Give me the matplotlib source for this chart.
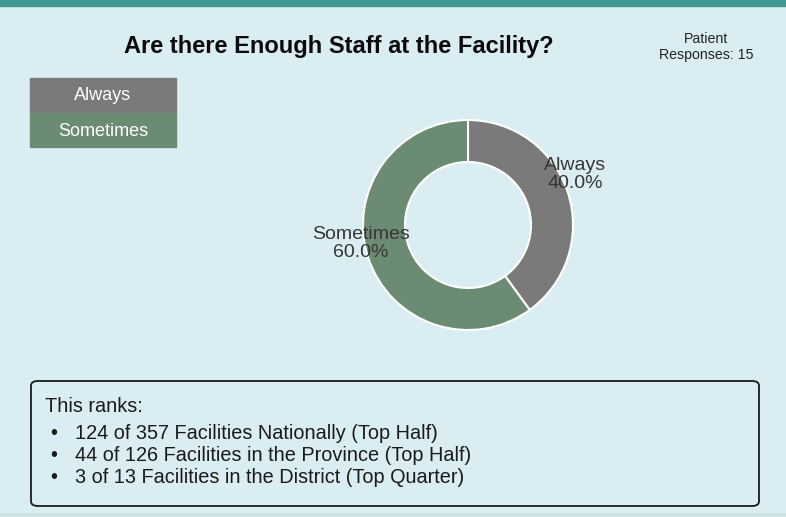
import numpy as np
import matplotlib
matplotlib.use("Agg")
from matplotlib import pyplot as plt
from matplotlib.patches import Rectangle, FancyBboxPatch

categories = ["Always", "Sometimes"]
shares = [40.0, 60.0]
colors = ["#7a7a7a", "#6b8c72"]
title = "Are there Enough Staff at the Facility?"
responses = 15
rank_lines = [
    "124 of 357 Facilities Nationally (Top Half)",
    "44 of 126 Facilities in the Province (Top Half)",
    "3 of 13 Facilities in the District (Top Quarter)",
]

W, H = 786, 517
BG = "#daedf2"
plt.rcParams['font.family'] = ['Liberation Sans', 'DejaVu Sans']

fig = plt.figure(figsize=(W / 100, H / 100), dpi=100, facecolor=BG)


def fx(px):
    return px / W


def fy(py):
    # pixel from top -> figure fraction
    return 1 - py / H


# top bar and bottom strip
fig.patches.append(Rectangle((0, fy(6)), 1, 6 / H, transform=fig.transFigure,
                             color="#3d9991", zorder=0))
fig.patches.append(Rectangle((0, 0), 1, 4 / H, transform=fig.transFigure,
                             color="#cde3e6", zorder=0))

fig.text(fx(339), fy(46), title, ha="center", va="center", fontsize=17,
         fontweight="bold", color="#0a0a0a")
fig.text(fx(706), fy(47), "Patient\nResponses: %d" % responses, ha="center",
         va="center", fontsize=10.2, color="#222222", linespacing=1.15)

# legend boxes
for i, (cat, col) in enumerate(zip(categories, colors)):
    top = 78 + i * 35
    fig.patches.append(Rectangle((fx(30), fy(top + 34)), fx(146), 34 / H,
                                 transform=fig.transFigure, color=col))
    fig.text(fx(103), fy(top + 18), cat, ha="center", va="center",
             fontsize=13, color="white")

# donut
R = 105
cx, cy = 468, 225
lim = 1.25
side = 2 * lim * R
ax = fig.add_axes([fx(cx - side / 2), (H - cy - side / 2) / H, side / W, side / H])
ax.set_facecolor("none")
ax.pie(shares, colors=colors, startangle=90, counterclock=False, radius=1,
       wedgeprops=dict(width=0.4, edgecolor="white", linewidth=1.5))
ax.set_xlim(-lim, lim)
ax.set_ylim(-lim, lim)
ax.set_aspect("equal")
ax.axis("off")

total = sum(shares)
cum = 0
for cat, v in zip(categories, shares):
    mid = np.deg2rad(90 - 360 * (cum + v / 2) / total)
    cum += v
    ax.text(1.07 * np.cos(mid), 1.07 * np.sin(mid) + 0.15,
            "%s\n%.1f%%" % (cat, 100 * v / total), ha="center", va="center",
            fontsize=14, color="#363636", linespacing=1.08)

# ranking box
fig.patches.append(FancyBboxPatch((fx(31), fy(506)), fx(728), 125 / H,
                                  boxstyle="round,pad=0,rounding_size=0.009",
                                  transform=fig.transFigure, facecolor=BG,
                                  edgecolor="#1a1a1a", linewidth=1.3))
fig.text(fx(45), fy(412), "This ranks:", ha="left", va="baseline",
         fontsize=14.3, color="#1a1a1a")
for i, line in enumerate(rank_lines):
    base = 439 + i * 22
    fig.text(fx(54), fy(base), "\u2022", ha="center", va="baseline",
             fontsize=14.3, color="#1a1a1a")
    fig.text(fx(75), fy(base), line, ha="left", va="baseline",
             fontsize=14.3, color="#1a1a1a")

fig.savefig("out.png", dpi=100, facecolor=BG)
